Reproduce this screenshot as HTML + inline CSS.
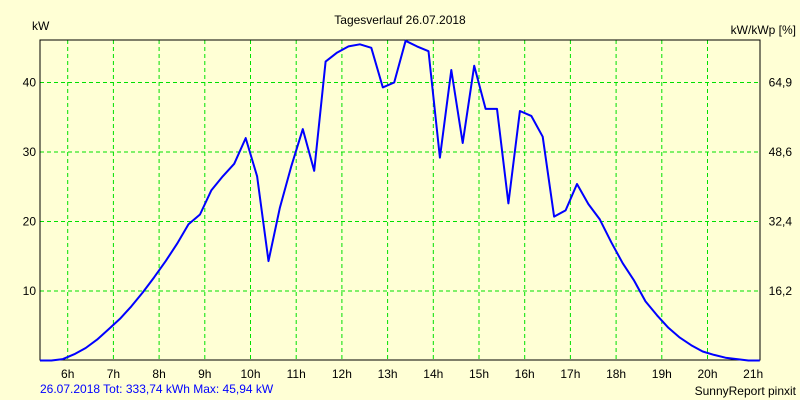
<!DOCTYPE html>
<html><head><meta charset="utf-8"><style>
body{margin:0;background:#ffffd5;}
svg{display:block;font-family:"Liberation Sans",Arial,sans-serif;font-size:12px;}
</style></head><body>
<svg id="chart" width="800" height="400" viewBox="0 0 800 400">
<rect x="0" y="0" width="800" height="400" fill="#ffffd5"/>
<text x="400" y="24" text-anchor="middle">Tagesverlauf 26.07.2018</text>
<text x="32" y="30">kW</text>
<text x="796" y="34" text-anchor="end">kW/kWp [%]</text>
<g id="grid"></g>
<g id="axes"></g>
<text x="40" y="393" fill="#0000ff">26.07.2018 Tot: 333,74 kWh Max: 45,94 kW</text>
<text x="796" y="395" text-anchor="end">SunnyReport pinxit</text>
</svg>
<script>
const hourTicks=[6,7,8,9,10,11,12,13,14,15,16,17,18,19,20,21];
const leftTicks=[10,20,30,40];
const rightTickLabels=["16,2","32,4","48,6","64,9"];
const startTime=5.394, stepTime=0.25;
const values=[0,0,0.2,0.9,1.8,3,4.5,6,7.8,9.8,12,14.3,16.8,19.6,21,24.5,26.5,28.3,32,26.5,14.3,22,28,33.3,27.3,43,44.3,45.2,45.5,45,39.3,40,46,45.2,44.5,29.2,41.8,31.3,42.4,36.2,36.2,22.6,35.9,35.2,32.2,20.7,21.6,25.4,22.5,20.3,17,14,11.5,8.5,6.5,4.7,3.3,2.2,1.3,0.8,0.4,0.2,0,0];
const L=40,R=760,T=40,B=360;
const xH=h=>67.7+(h-6)*45.7;
const yV=v=>360.5-v*6.95;
const NS="http://www.w3.org/2000/svg";
const svg=document.getElementById('chart');
const grid=document.getElementById('grid'), axes=document.getElementById('axes');
function mk(tag,attrs,parent){const e=document.createElementNS(NS,tag);for(const k in attrs)e.setAttribute(k,attrs[k]);parent.appendChild(e);return e;}
hourTicks.forEach(h=>{
  const x=xH(h);
  if(h<21){const g=mk('line',{x1:x,x2:x,y1:T,y2:B,stroke:'#00e000','stroke-dasharray':'4,3'},grid);
  
  }
  const t=mk('text',{x:x,y:378,'text-anchor':'middle'},axes);t.textContent=h+'h';
  
  
});
leftTicks.forEach((v,i)=>{
  const y=yV(v);
  const g=mk('line',{x1:L,x2:R,y1:y,y2:y,stroke:'#00e000','stroke-dasharray':'4,3'},grid);
  
  
  const t=mk('text',{x:36,y:y+4,'text-anchor':'end'},axes);t.textContent=v;
  
  
  const t2=mk('text',{x:792,y:y+4,'text-anchor':'end'},axes);t2.textContent=rightTickLabels[i];
  
  
});
const frame=mk('rect',{x:L,y:T,width:R-L,height:B-T,fill:'none',stroke:'#000','stroke-width':1},svg);


const pts=values.map((v,i)=>xH(startTime+i*stepTime).toFixed(1)+','+yV(v).toFixed(1)).join(' ');
const line=mk('polyline',{points:pts,fill:'none',stroke:'#0000ff','stroke-width':2,'stroke-linejoin':'round'},svg);


</script>
</body></html>
